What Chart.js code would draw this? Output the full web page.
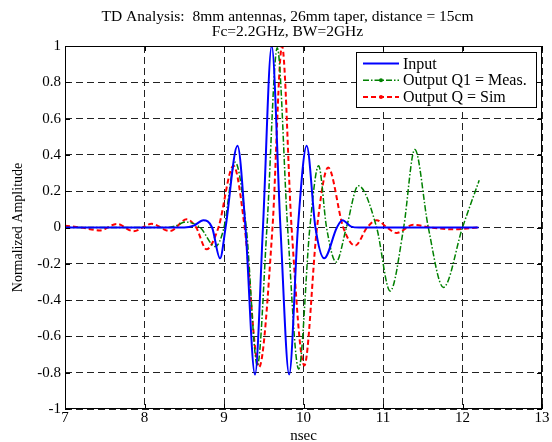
<!DOCTYPE html>
<html>
<head>
<meta charset="utf-8">
<script src="https://cdn.jsdelivr.net/npm/chart.js@4.4.1/dist/chart.umd.min.js"></script>
<style>
  html, body { margin: 0; padding: 0; background: #fff; }
  #wrap { width: 552px; height: 442px; }
</style>
</head>
<body>
<div id="wrap"><canvas id="myChart" width="552" height="442"></canvas></div>
<script>
// values (time in nsec, normalized amplitude)
const inputT = [7.0, 8.0, 8.5, 8.62, 8.74, 8.85, 8.95, 9.02, 9.17, 9.27, 9.39, 9.49, 9.60, 9.71, 9.82, 9.93, 10.04, 10.15, 10.26, 10.42, 10.49, 10.6, 10.7, 11.5, 12.2];
const inputV = [0, 0, 0, 0.01, 0.04, 0, -0.17, 0, 0.45, 0, -0.81, 0, 1.0, 0, -0.81, 0, 0.45, 0, -0.17, 0, 0.04, 0.005, 0, 0, 0];

const measT = [7.0, 8.0, 8.3, 8.4, 8.51, 8.7, 8.89, 9.0, 9.14, 9.28, 9.42, 9.54, 9.67, 9.80, 9.94, 10.08, 10.19, 10.29, 10.41, 10.54, 10.69, 10.92, 11.09, 11.26, 11.40, 11.57, 11.76, 12.0, 12.21];
const measV = [0, 0, 0, 0.01, 0.03, 0, -0.105, 0, 0.36, 0, -0.76, 0, 0.99, 0, -0.78, 0, 0.34, 0, -0.19, 0, 0.23, 0, -0.35, 0, 0.43, 0, -0.33, 0, 0.26];

const simT = [7.0, 7.2, 7.44, 7.65, 7.86, 8.09, 8.32, 8.53, 8.65, 8.78, 8.93, 9.12, 9.26, 9.44, 9.61, 9.73, 9.85, 10.01, 10.17, 10.31, 10.50, 10.65, 10.8, 10.92, 11.05, 11.17, 11.38, 11.6, 11.9, 12.2];
const simV = [0.01, 0, -0.016, 0.02, -0.02, 0.02, -0.02, 0.045, 0, -0.12, 0, 0.34, 0, -0.77, 0, 1.0, 0, -0.76, 0, 0.33, 0, -0.10, 0, 0.04, 0, -0.03, 0.015, 0, -0.01, 0];

const seriesNames = ['Input', 'Output Q1 = Meas.', 'Output Q = Sim'];
const titleLines = ['TD Analysis:  8mm antennas, 26mm taper, distance = 15cm', 'Fc=2.2GHz, BW=2GHz'];
const xTicks = [7, 8, 9, 10, 11, 12, 13];

const serif = "'Liberation Serif', 'Times New Roman', serif";

function toPoints(ts, vs) {
  return ts.map((t, i) => ({ x: t, y: vs[i] }));
}

// title, box, inward ticks and legend like the matlab figure
const matlabFrame = {
  id: 'matlabFrame',
  afterDraw(chart) {
    const c = chart.ctx;
    const a = chart.chartArea;
    const xs = chart.scales.x, ys = chart.scales.y;
    c.save();

    // title (matlab centers it a bit left of the axes)
    c.fillStyle = '#000';
    c.font = '15.5px ' + serif;
    c.textAlign = 'center';
    c.textBaseline = 'middle';
    titleLines.forEach((s, i) => c.fillText(s, 287.5, 17 + i * 15.3));
    c.textAlign = 'left';

    c.strokeStyle = '#000';
    c.lineWidth = 1;
    c.setLineDash([]);
    c.strokeRect(a.left + 0.5, a.top + 0.5, a.right - a.left - 1, a.bottom - a.top - 1);
    c.beginPath();
    xTicks.forEach(t => {
      const px = Math.round(xs.getPixelForValue(t)) + 0.5;
      c.moveTo(px, a.bottom); c.lineTo(px, a.bottom - 5);
      c.moveTo(px, a.top); c.lineTo(px, a.top + 5);
    });
    ys.ticks.forEach(tk => {
      const py = Math.round(ys.getPixelForValue(tk.value)) + 0.5;
      c.moveTo(a.left, py); c.lineTo(a.left + 5, py);
      c.moveTo(a.right, py); c.lineTo(a.right - 5, py);
    });
    c.stroke();

    // legend
    const lx = 356, ly = 52, lw = 180, lh = 55;
    c.fillStyle = '#fff';
    c.fillRect(lx, ly, lw, lh);
    c.strokeRect(lx + 0.5, ly + 0.5, lw, lh);
    c.font = '16px ' + serif;
    c.textBaseline = 'middle';
    chart.data.datasets.forEach((ds, i) => {
      const ry = ly + 11.5 + i * 16.7;
      c.strokeStyle = ds.borderColor;
      c.lineWidth = ds.borderWidth;
      c.setLineDash(ds.borderDash || []);
      c.beginPath();
      c.moveTo(lx + 7, ry); c.lineTo(lx + 43, ry);
      c.stroke();
      c.setLineDash([]);
      if (i > 0) {
        c.fillStyle = ds.borderColor;
        c.beginPath();
        c.arc(lx + 25, ry, 2, 0, Math.PI * 2);
        c.fill();
      }
      c.fillStyle = '#000';
      c.fillText(ds.label, lx + 47, ry + 1);
    });
    c.restore();
  }
};

const ctx = document.getElementById('myChart').getContext('2d');

const myChart = new Chart(ctx, {
  type: 'line',
  data: {
    datasets: [
      {
        label: seriesNames[0],
        data: toPoints(inputT, inputV),
        borderColor: '#0000ff',
        borderWidth: 2,
        cubicInterpolationMode: 'monotone'
      },
      {
        label: seriesNames[1],
        data: toPoints(measT, measV),
        borderColor: '#008000',
        borderWidth: 1.5,
        borderDash: [6, 2, 1.5, 2],
        cubicInterpolationMode: 'monotone'
      },
      {
        label: seriesNames[2],
        data: toPoints(simT, simV),
        borderColor: '#ff0000',
        borderWidth: 2,
        borderDash: [5, 3],
        cubicInterpolationMode: 'monotone'
      }
    ]
  },
  options: {
    responsive: false,
    animation: false,
    events: [],
    elements: { point: { radius: 0 } },
    layout: { padding: { left: 0, right: 10, top: 46, bottom: 0 } },
    plugins: {
      legend: { display: false },
      tooltip: { enabled: false },
      title: { display: false }
    },
    scales: {
      x: {
        type: 'linear',
        min: 7,
        max: 13,
        afterBuildTicks: s => { s.ticks = xTicks.map(v => ({ value: v })); },
        afterFit: s => { s.height = 33; },
        grid: { color: '#222', lineWidth: 1, drawTicks: false },
        border: { display: false, dash: [7, 4] },
        ticks: { color: '#000', font: { family: serif, size: 15, lineHeight: 1.0 }, padding: 2, maxRotation: 0 },
        title: { display: true, text: 'nsec', color: '#000', font: { family: serif, size: 15, lineHeight: 1.0 }, padding: { top: 0, bottom: -2 } }
      },
      y: {
        min: -1,
        max: 1,
        afterFit: s => { s.width = 65; },
        grid: { color: '#222', lineWidth: 1, drawTicks: false },
        border: { display: false, dash: [7, 4] },
        ticks: {
          stepSize: 0.2,
          color: '#000',
          font: { family: serif, size: 15 },
          padding: 4,
          callback: v => String(Math.round(v * 10) / 10)
        },
        title: { display: true, text: 'Normalized Amplitude', color: '#000', font: { family: serif, size: 14, lineHeight: 1.2 }, padding: { top: 10, bottom: 0 } }
      }
    }
  },
  plugins: [matlabFrame]
});
</script>
</body>
</html>
